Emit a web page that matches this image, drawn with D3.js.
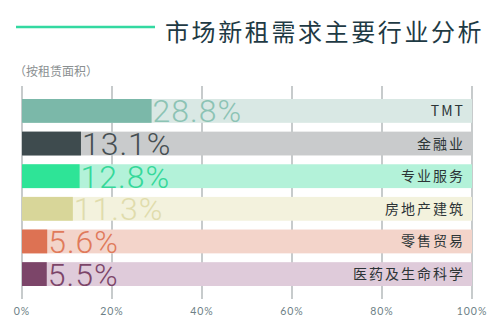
<!DOCTYPE html>
<html>
<head>
<meta charset="utf-8">
<script src="https://cdn.jsdelivr.net/npm/d3@7"></script>
<style>
  body { margin: 0; background: #fff; }
  svg { display: block; }
</style>
</head>
<body>
<svg id="chart" width="500" height="333"></svg>
<script>
// data
var categories = ["TMT", "金融业", "专业服务", "房地产建筑", "零售贸易", "医药及生命科学"];
var values = [28.8, 13.1, 12.8, 11.3, 5.6, 5.5];
var barColors = ["#7bb8a9", "#3e4b4e", "#2ee497", "#d8d699", "#dd7253", "#7c4569"];
var bgColors = ["#d9e8e4", "#c9cbcc", "#b3f2d9", "#f3f2dd", "#f3d4ca", "#dfcbda"];
var textColors = ["#8cc3b4", "#464f52", "#35d89a", "#e0dcac", "#e07a5a", "#7c4569"];
var ticks = [0, 20, 40, 60, 80, 100];

var svg = d3.select("#chart");

var x = d3.scaleLinear().domain([0, 100]).range([22, 472]);
var y = d3.scaleBand().domain(categories).range([99, 286]).paddingInner(0.27).paddingOuter(0.0);

// title
svg.append("line")
    .attr("x1", 16).attr("x2", 155)
    .attr("y1", 27).attr("y2", 27)
    .attr("stroke", "#33d9a1").attr("stroke-width", 2.5);

svg.append("text")
    .attr("x", 165).attr("y", 41)
    .attr("font-family", "Noto Sans CJK SC")
    .attr("font-size", 24)
    .attr("letter-spacing", 2.6)
    .attr("fill", "#1e3a44")
    .text("市场新租需求主要行业分析");

svg.append("text")
    .attr("x", 14).attr("y", 76)
    .attr("font-family", "Noto Sans CJK SC")
    .attr("font-size", 12)
    .attr("fill", "#8a8f91")
    .text("（按租赁面积）");

// grid
svg.append("g").selectAll("line")
    .data(ticks)
    .enter().append("line")
    .attr("x1", function(d) { return x(d); })
    .attr("x2", function(d) { return x(d); })
    .attr("y1", 86).attr("y2", 299)
    .attr("stroke", "#8f9799").attr("stroke-width", 1);

// axis labels
svg.append("g").selectAll("text")
    .data(ticks)
    .enter().append("text")
    .attr("x", function(d) { return x(d); })
    .attr("y", 315)
    .attr("text-anchor", "middle")
    .attr("font-family", "Lato")
    .attr("font-size", 10.5)
    .attr("letter-spacing", 1)
    .attr("fill", "#6d7f86")
    .text(function(d) { return d + "%"; });

var rows = svg.append("g").selectAll("g")
    .data(categories)
    .enter().append("g");

// background bars
rows.append("rect")
    .attr("x", x(0))
    .attr("y", function(d) { return y(d); })
    .attr("width", x(100) - x(0))
    .attr("height", y.bandwidth())
    .attr("fill", function(d, i) { return bgColors[i]; });

// value bars
rows.append("rect")
    .attr("x", x(0))
    .attr("y", function(d) { return y(d); })
    .attr("width", function(d, i) { return x(values[i]) - x(0); })
    .attr("height", y.bandwidth())
    .attr("fill", function(d, i) { return barColors[i]; });

// value text
rows.append("text")
    .attr("x", function(d, i) { return x(values[i]) + 1; })
    .attr("y", function(d) { return y(d) + y.bandwidth() - 0.5; })
    .attr("font-family", "Roboto")
    .attr("font-weight", 300)
    .attr("font-size", 32)
    .attr("letter-spacing", 1)
    .attr("fill", function(d, i) { return textColors[i]; })
    .text(function(d, i) { return values[i] + "%"; });

// category text
rows.append("text")
    .attr("x", 465)
    .attr("y", function(d) { return y(d) + y.bandwidth() / 2 + 5; })
    .attr("text-anchor", "end")
    .attr("font-family", "Noto Sans CJK SC")
    .attr("font-size", 14)
    .attr("letter-spacing", 2)
    .attr("fill", "#2c3436")
    .text(function(d) { return d; });
</script>
</body>
</html>
